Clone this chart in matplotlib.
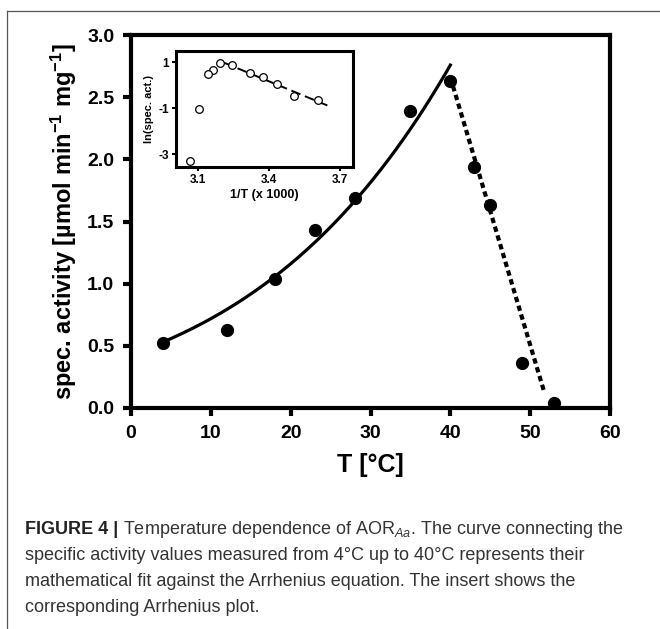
import numpy as np
import matplotlib
matplotlib.use("Agg")
import matplotlib.pyplot as plt
from matplotlib.lines import Line2D

plt.rcParams['font.family'] = ['Liberation Sans', 'DejaVu Sans']
plt.rcParams['mathtext.fontset'] = 'custom'
plt.rcParams['mathtext.rm'] = 'Liberation Sans:bold'
plt.rcParams['mathtext.it'] = 'Liberation Sans:italic'

temp_C = [4, 12, 18, 23, 28, 35, 40, 43, 45, 49, 53]
activite = [0.52, 0.63, 1.04, 1.43, 1.69, 2.39, 2.63, 1.94, 1.63, 0.36, 0.037]

# zone d'ajustement Arrhenius (4 -> 40 °C)
fit_T_min = 4
fit_T_max = 40

# droite de déclin (pointillés) au-dessus de 40 °C
declin_T = [40, 51.8]
declin_act = [2.66, 0.12]

# droite de l'encart
encart_x = [3.21, 3.66]

x_ticks = [0, 10, 20, 30, 40, 50, 60]
y_ticks = [0.0, 0.5, 1.0, 1.5, 2.0, 2.5, 3.0]
encart_xticks = [3.1, 3.4, 3.7]
encart_yticks = [1, -1, -3]

T = np.array(temp_C, dtype=float)
A = np.array(activite)
m = (T >= fit_T_min) & (T <= fit_T_max)
Tk = T[m] + 273.15

# ajustement non linéaire y = a*exp(-b/T) par balayage de b
best = None
for b in np.linspace(2000, 7000, 5001):
    f = np.exp(-b / Tk)
    a = np.sum(A[m] * f) / np.sum(f * f)
    err = np.sum((A[m] - a * f) ** 2)
    if best is None or err < best[0]:
        best = (err, a, b)
_, a_fit, b_fit = best

T_courbe = np.linspace(fit_T_min, fit_T_max, 200)
act_courbe = a_fit * np.exp(-b_fit / (T_courbe + 273.15))

fig = plt.figure(figsize=(6.6, 6.29), dpi=100)

# cadre de la figure
fig.add_artist(Line2D([7/660, 7/660], [0, 1 - 11/629], color='#555555', lw=0.9))
fig.add_artist(Line2D([7/660, 1], [1 - 11/629, 1 - 11/629], color='#555555', lw=0.9))

ax = fig.add_axes([131/660, 1 - 408/629, 479/660, 373/629])
ax.plot(T_courbe, act_courbe, color='black', lw=2.3, zorder=2)
ax.plot(declin_T, declin_act, color='black', lw=3, linestyle=(0, (1.3, 0.9)), zorder=2)
ax.plot(T, A, 'o', color='black', ms=8.5, zorder=3)
ax.set_xlim(0, 60)
ax.set_ylim(0, 3.0)
ax.set_xticks(x_ticks)
ax.set_yticks(y_ticks)
ax.set_yticklabels(['%.1f' % v for v in y_ticks])
for s in ax.spines.values():
    s.set_linewidth(3)
ax.tick_params(direction='out', length=6, width=3, labelsize=14, pad=6)
for lab in ax.get_xticklabels() + ax.get_yticklabels():
    lab.set_fontweight('bold')
ax.set_xlabel('T [°C]', fontsize=18, fontweight='bold', labelpad=8)
ax.set_ylabel(r'spec. activity [µmol min$^{-1}$ mg$^{-1}$]', fontsize=17, fontweight='bold', labelpad=6)

# encart : tracé d'Arrhenius
ins = fig.add_axes([176/660, 1 - 167/629, 177/660, 116/629])
inv_T = 1000 / (T + 273.15)
ln_A = np.log(A)
pente, orig = np.polyfit(inv_T[m], ln_A[m], 1)
xx = np.array(encart_x)
ins.plot(xx, pente * xx + orig, color='black', lw=1.4, linestyle=(0, (5, 2.5)), zorder=2)
ins.plot(inv_T, ln_A, 'o', mfc='white', mec='black', ms=5.5, mew=0.9, zorder=3)
ins.set_xlim(3.007, 3.755)
ins.set_ylim(-3.55, 1.48)
ins.set_xticks(encart_xticks)
ins.set_yticks(encart_yticks)
ins.set_xticklabels(['3.1', '3.4', '3.7'])
ins.set_yticklabels(['1', '-1', '-3'])
for s in ins.spines.values():
    s.set_linewidth(2.2)
ins.tick_params(direction='out', length=3, width=1.5, labelsize=8.5, pad=2)
for lab in ins.get_xticklabels() + ins.get_yticklabels():
    lab.set_fontweight('bold')
ins.set_xlabel('1/T (x 1000)', fontsize=9, fontweight='bold', labelpad=2)
ins.set_ylabel('ln(spec. act.)', fontsize=8, fontweight='bold', labelpad=3)

# légende de la figure
t0 = fig.text(25/660, 1 - 530/629, 'FIGURE 4 |', fontsize=13, fontweight='bold',
              color='#222222', va='center')
ax.annotate(r' Temperature dependence of AOR$_{\mathit{Aa}}$. The curve connecting the',
            xy=(1, 0.5), xycoords=t0, va='center', ha='left',
            fontsize=13, color='#333333', annotation_clip=False)
lignes = ['specific activity values measured from 4°C up to 40°C represents their',
          'mathematical fit against the Arrhenius equation. The insert shows the',
          'corresponding Arrhenius plot.']
for i, txt in enumerate(lignes):
    fig.text(25/660, 1 - (556 + 26 * i)/629, txt, fontsize=13, color='#333333',
             va='center')

fig.savefig('out.png', dpi=100)
